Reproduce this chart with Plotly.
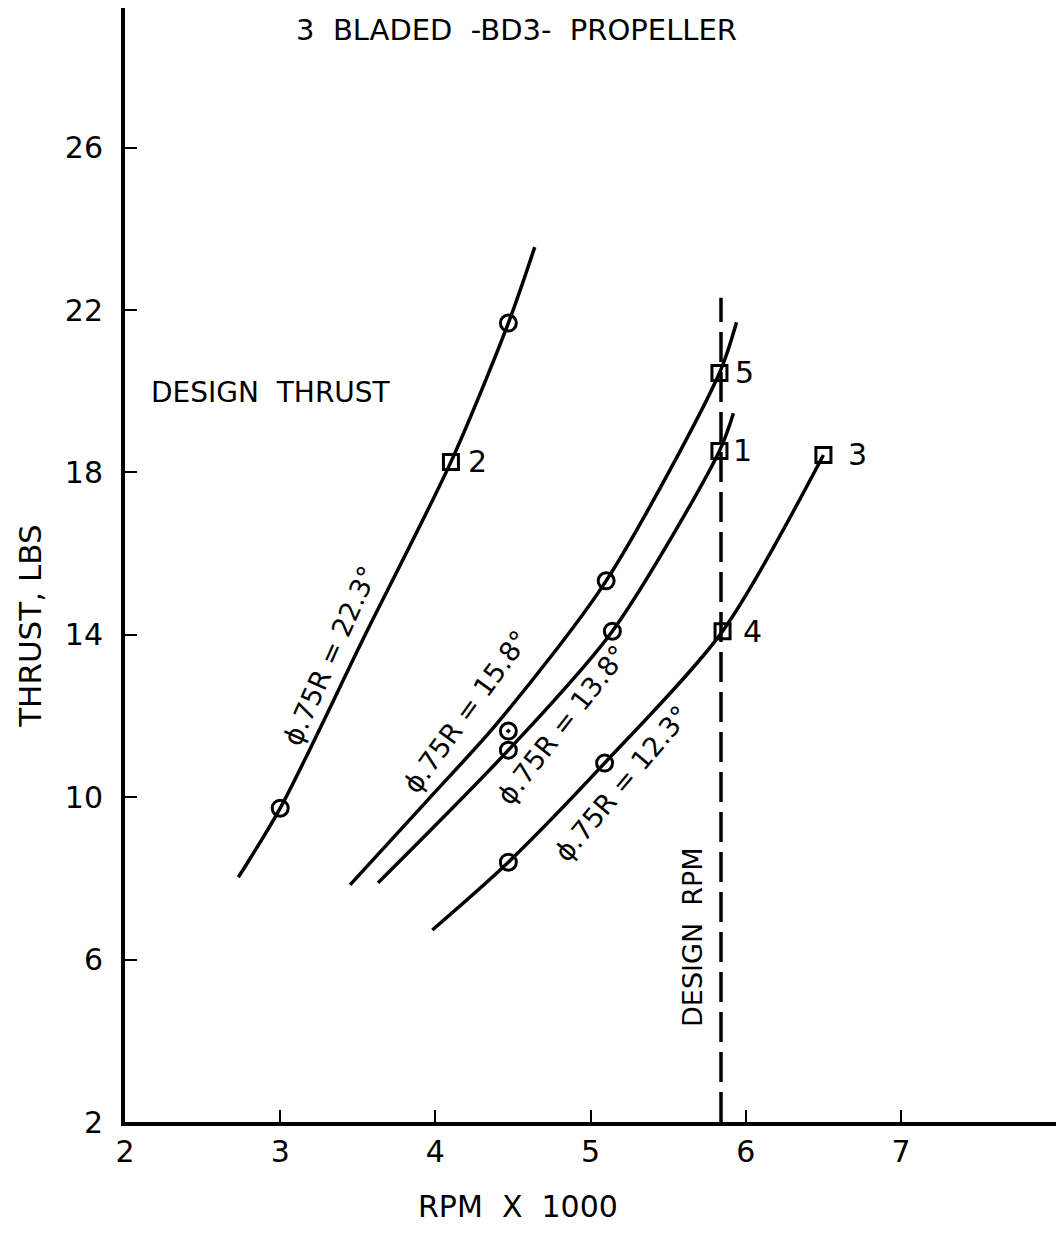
import plotly.graph_objects as go

# ---- data (RPM x 1000, thrust lbs) ----
rpm_a = [2.73, 3.00, 3.55, 4.10, 4.47, 4.64]
thrust_a = [8.03, 9.73, 14.02, 18.26, 21.68, 23.55]

rpm_b = [3.45, 3.95, 4.40, 5.10, 5.83, 5.94]
thrust_b = [7.84, 9.93, 11.83, 15.33, 20.45, 21.70]

rpm_c = [3.63, 4.47, 5.14, 5.83, 5.92]
thrust_c = [7.89, 11.16, 14.09, 18.53, 19.46]

rpm_d = [3.98, 4.47, 5.09, 5.85, 6.50]
thrust_d = [6.73, 8.40, 10.84, 14.09, 18.43]

circle_rpm = [3.00, 4.47, 5.10, 4.47, 5.14, 4.47, 5.09]
circle_thrust = [9.73, 21.68, 15.33, 11.16, 14.09, 8.40, 10.84]

dot_rpm = [4.47]
dot_thrust = [11.63]

square_rpm = [4.10, 5.83, 5.83, 6.50, 5.85]
square_thrust = [18.26, 20.45, 18.53, 18.43, 14.09]
square_labels = ["2", "5", "1", "3", "4"]

design_rpm = 5.84
design_line_thrust = [2.0, 22.3]

x_ticks = [2, 3, 4, 5, 6, 7]
y_ticks = [2, 6, 10, 14, 18, 22, 26]

FONT = "DejaVu Sans"
INK = "black"

fig = go.Figure()

for xs, ys in [(rpm_a, thrust_a), (rpm_b, thrust_b), (rpm_c, thrust_c), (rpm_d, thrust_d)]:
    fig.add_trace(go.Scatter(x=xs, y=ys, mode="lines",
                             line=dict(color=INK, width=3.5, shape="spline", smoothing=0.8),
                             showlegend=False, hoverinfo="skip"))

fig.add_trace(go.Scatter(x=[design_rpm, design_rpm], y=design_line_thrust, mode="lines",
                         line=dict(color=INK, width=3.5, dash="30px,10px"),
                         showlegend=False, hoverinfo="skip"))

fig.add_trace(go.Scatter(x=circle_rpm, y=circle_thrust, mode="markers",
                         marker=dict(symbol="circle-open", size=16, color=INK, line=dict(width=3, color=INK)),
                         showlegend=False))
fig.add_trace(go.Scatter(x=dot_rpm, y=dot_thrust, mode="markers",
                         marker=dict(symbol="circle-open-dot", size=16, color=INK, line=dict(width=3, color=INK)),
                         showlegend=False))
fig.add_trace(go.Scatter(x=square_rpm, y=square_thrust, mode="markers",
                         marker=dict(symbol="square-open", size=15, color=INK, line=dict(width=3, color=INK)),
                         showlegend=False))

# point labels next to squares
label_dx = [0.17, 0.16, 0.15, 0.22, 0.19]
for xv, yv, t, dx in zip(square_rpm, square_thrust, square_labels, label_dx):
    fig.add_annotation(x=xv + dx, y=yv, text=t, showarrow=False,
                       font=dict(family=FONT, size=30, color=INK), xanchor="center", yanchor="middle")

# curve labels (rotated along curves)
curve_labels = [
    ("ϕ.75R = 22.3°", 3.32, 13.5, -66),
    ("ϕ.75R = 15.8°", 4.20, 12.1, -54),
    ("ϕ.75R = 13.8°", 4.82, 11.78, -52),
    ("ϕ.75R = 12.3°", 5.20, 10.35, -50),
]
for t, xv, yv, ang in curve_labels:
    fig.add_annotation(x=xv, y=yv, text=t, showarrow=False, textangle=ang,
                       font=dict(family=FONT, size=27, color=INK), xanchor="center", yanchor="middle")

fig.add_annotation(x=4.52, y=28.9, text="3  BLADED  -BD3-  PROPELLER", showarrow=False,
                   font=dict(family=FONT, size=29, color=INK), yanchor="middle")
fig.add_annotation(x=2.94, y=19.98, text="DESIGN  THRUST", showarrow=False,
                   font=dict(family=FONT, size=28, color=INK))
fig.add_annotation(x=5.66, y=6.56, text="DESIGN  RPM", showarrow=False, textangle=-90,
                   font=dict(family=FONT, size=27, color=INK))
fig.add_annotation(xref="paper", x=-0.101, y=14.2, text="THRUST, LBS", showarrow=False, textangle=-90,
                   font=dict(family=FONT, size=31, color=INK), xanchor="center", yanchor="middle")
fig.add_annotation(yref="paper", x=4.53, y=-0.076, text="RPM  X  1000", showarrow=False,
                   font=dict(family=FONT, size=30, color=INK), xanchor="center", yanchor="middle")

fig.update_layout(
    width=1064, height=1237,
    margin=dict(l=117, r=8, t=0, b=123),
    paper_bgcolor="white", plot_bgcolor="white",
    xaxis=dict(range=[2, 8.05], tickvals=x_ticks, ticktext=[str(v) for v in x_ticks],
               showline=True, linewidth=4, linecolor=INK, ticks="inside", ticklen=12, tickwidth=2,
               tickcolor=INK, showgrid=False, zeroline=False, ticklabelstandoff=0,
               tickfont=dict(family=FONT, size=30, color=INK)),
    yaxis=dict(range=[2, 29.44], tickvals=y_ticks, ticktext=[str(v) for v in y_ticks],
               showline=True, linewidth=4, linecolor=INK, ticks="inside", ticklen=12, tickwidth=2,
               tickcolor=INK, showgrid=False, zeroline=False, ticklabelstandoff=12,
               tickfont=dict(family=FONT, size=30, color=INK)),
)

fig.write_html("out.html")
